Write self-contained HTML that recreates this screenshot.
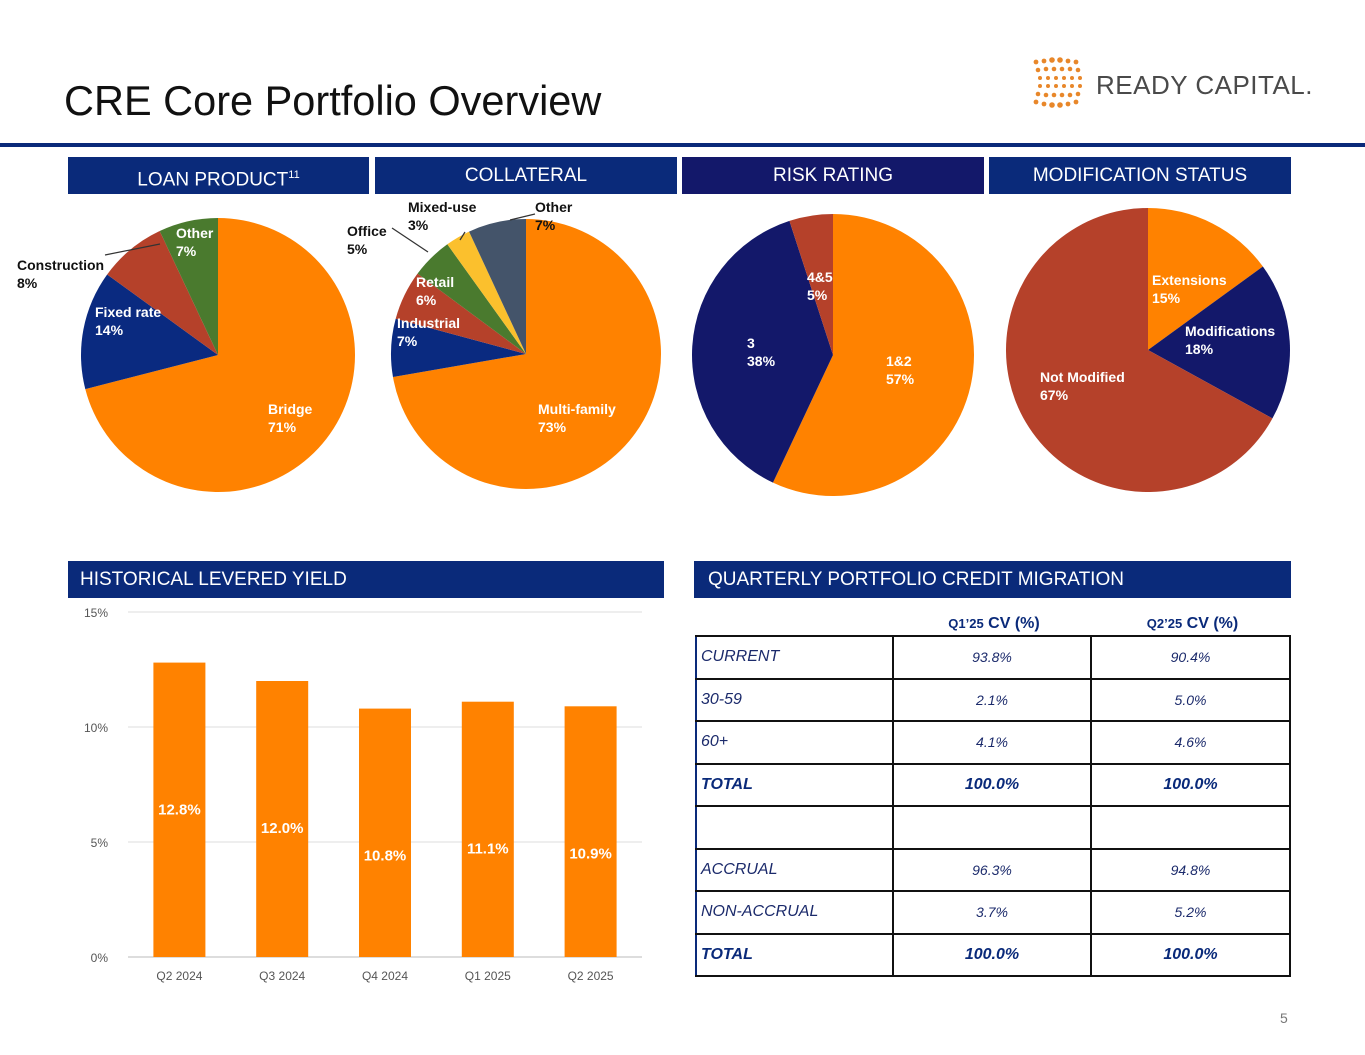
<!DOCTYPE html>
<html><head><meta charset="utf-8"><style>
body{margin:0;width:1365px;height:1055px;background:#fff;font-family:"Liberation Sans",Arial,sans-serif;position:relative;overflow:hidden}
.hdr{position:absolute;height:37px;background:#0A2A7A;color:#fff;font-size:19px;line-height:37px;text-align:center}
.abs{position:absolute}
table{border-collapse:collapse;position:absolute;left:695px;top:613px;width:594px;table-layout:fixed;font-size:16px;color:#1b2a6b}
td{border:2px solid #111;height:40.5px;padding:0 0 0 4px;font-style:italic}
td.c{text-align:center;padding:0;font-size:14px}
td.b{font-weight:bold;font-size:16px;color:#0A2A7A}
tr.h td{border:none;height:22px;font-style:normal;font-weight:bold;text-align:center;color:#0A2A7A;font-size:16px}
tr.h small{font-size:13px}
td.l{border-left:2px solid #0A2A7A}
</style></head><body>
<div class="abs" style="left:64px;top:77px;font-size:41.5px;color:#111">CRE Core Portfolio Overview</div>
<div class="abs" style="left:0;top:143px;width:1365px;height:4px;background:#0A2A7A"></div>
<div class="abs" style="left:1030px;top:56px;width:290px;height:56px">
<svg width="60" height="56"><g fill="#E8872A">
<circle cx="6" cy="6" r="2.4"/><circle cx="14" cy="5" r="2.4"/><circle cx="22" cy="4" r="2.8"/><circle cx="30" cy="4" r="2.8"/><circle cx="38" cy="5" r="2.4"/><circle cx="46" cy="6" r="2.4"/>
<circle cx="8" cy="14" r="2.3"/><circle cx="16" cy="13" r="2.3"/><circle cx="24" cy="13" r="2.3"/><circle cx="32" cy="13" r="2.3"/><circle cx="40" cy="13" r="2.3"/><circle cx="48" cy="14" r="2.3"/>
<circle cx="10" cy="22" r="2"/><circle cx="18" cy="22" r="2"/><circle cx="26" cy="22" r="2"/><circle cx="34" cy="22" r="2"/><circle cx="42" cy="22" r="2"/><circle cx="50" cy="22" r="2"/>
<circle cx="10" cy="30" r="2"/><circle cx="18" cy="30" r="2"/><circle cx="26" cy="30" r="2"/><circle cx="34" cy="30" r="2"/><circle cx="42" cy="30" r="2"/><circle cx="50" cy="30" r="2"/>
<circle cx="8" cy="38" r="2.3"/><circle cx="16" cy="39" r="2.3"/><circle cx="24" cy="39" r="2.3"/><circle cx="32" cy="39" r="2.3"/><circle cx="40" cy="39" r="2.3"/><circle cx="48" cy="38" r="2.3"/>
<circle cx="6" cy="46" r="2.4"/><circle cx="14" cy="48" r="2.4"/><circle cx="22" cy="49" r="2.8"/><circle cx="30" cy="49" r="2.8"/><circle cx="38" cy="48" r="2.4"/><circle cx="46" cy="46" r="2.4"/></g></svg>
<span class="abs" style="left:66px;top:14px;font-size:26px;color:#4a4a4a;letter-spacing:0.5px">READY CAPITAL.</span></div>

<div class="hdr" style="left:68px;top:157px;width:301px">LOAN PRODUCT<sup style="font-size:11px">11</sup></div>
<div class="hdr" style="left:375px;top:157px;width:302px">COLLATERAL</div>
<div class="hdr" style="left:682px;top:157px;width:302px;background:#13186A">RISK RATING</div>
<div class="hdr" style="left:989px;top:157px;width:302px">MODIFICATION STATUS</div>
<div class="hdr" style="left:68px;top:561px;width:596px;text-align:left;padding-left:12px;box-sizing:border-box">HISTORICAL LEVERED YIELD</div>
<div class="hdr" style="left:694px;top:561px;width:597px;text-align:left;padding-left:14px;box-sizing:border-box">QUARTERLY PORTFOLIO CREDIT MIGRATION</div>

<svg id="pies" class="abs" style="left:0;top:0" width="1365" height="560"></svg>
<svg id="bars" class="abs" style="left:0;top:0" width="680" height="1000"></svg>

<table>
<colgroup><col style="width:197px"><col style="width:198px"><col style="width:199px"></colgroup>
<tr class="h"><td></td><td><small>Q1’25</small> CV (%)</td><td><small>Q2’25</small> CV (%)</td></tr>
<tr><td class="l">CURRENT</td><td class="c">93.8%</td><td class="c">90.4%</td></tr>
<tr><td class="l">30-59</td><td class="c">2.1%</td><td class="c">5.0%</td></tr>
<tr><td class="l">60+</td><td class="c">4.1%</td><td class="c">4.6%</td></tr>
<tr><td class="l b">TOTAL</td><td class="c b">100.0%</td><td class="c b">100.0%</td></tr>
<tr><td class="l"></td><td class="c"></td><td class="c"></td></tr>
<tr><td class="l">ACCRUAL</td><td class="c">96.3%</td><td class="c">94.8%</td></tr>
<tr><td class="l">NON-ACCRUAL</td><td class="c">3.7%</td><td class="c">5.2%</td></tr>
<tr><td class="l b">TOTAL</td><td class="c b">100.0%</td><td class="c b">100.0%</td></tr>
</table>
<div class="abs" style="left:1280px;top:1010px;font-size:14px;color:#777">5</div>

<script>
const NS='http://www.w3.org/2000/svg';
const loanLabels=['Bridge','Fixed rate','Construction','Other'];
const loanValues=[71,14,8,7];
const collLabels=['Multi-family','Industrial','Retail','Office','Mixed-use','Other'];
const collValues=[73,7,6,5,3,7];
const riskLabels=['1&2','3','4&5'];
const riskValues=[57,38,5];
const modLabels=['Extensions','Modifications','Not Modified'];
const modValues=[15,18,67];
const yieldCats=['Q2 2024','Q3 2024','Q4 2024','Q1 2025','Q2 2025'];
const yieldValues=[12.8,12.0,10.8,11.1,10.9];
const yTicks=[0,5,10,15];

function mk(parent,tag,attrs){const e=document.createElementNS(NS,tag);for(const k in attrs)e.setAttribute(k,attrs[k]);parent.appendChild(e);return e;}
const pies=document.getElementById('pies');
const slug=s=>s.toLowerCase().replace(/[^a-z0-9]+/g,'-');
function pie(name,cx,cy,r,vals,labels,colors,lpos){
  const tot=vals.reduce((a,b)=>a+b,0);let a0=0;
  vals.forEach((v,i)=>{
    const a1=a0+v/tot*2*Math.PI;
    const x0=cx+r*Math.sin(a0),y0=cy-r*Math.cos(a0),x1=cx+r*Math.sin(a1),y1=cy-r*Math.cos(a1);
    const p=mk(pies,'path',{d:`M${cx},${cy}L${x0},${y0}A${r},${r} 0 ${a1-a0>Math.PI?1:0} 1 ${x1},${y1}Z`,fill:colors[i]});
    
    
    a0=a1;
  });
  vals.forEach((v,i)=>{
    const lp=lpos[i];
    const t=mk(pies,'text',{x:lp[0],y:lp[1],fill:lp[2],'font-size':14,'font-weight':'bold'});
    
    
    mk(t,'tspan',{x:lp[0]}).textContent=labels[i];
    mk(t,'tspan',{x:lp[0],dy:18}).textContent=v+'%';
  });
}
const O='#FF8200',N='#0A2A80',R='#B5412A',G='#4A7A2E',Y='#FBC02D',S='#44546A',D='#13186A';
pie('loan',218,355,137,loanValues,loanLabels,[O,N,R,G],[[268,414,'#fff'],[95,317,'#fff'],[17,270,'#111'],[176,238,'#fff']]);
pie('collateral',526,354,135,collValues,collLabels,[O,N,R,G,Y,S],[[538,414,'#fff'],[397,328,'#fff'],[416,287,'#fff'],[347,236,'#111'],[408,212,'#111'],[535,212,'#111']]);
pie('risk',833,355,141,riskValues,riskLabels,[O,D,R],[[886,366,'#fff'],[747,348,'#fff'],[807,282,'#fff']]);
pie('modification',1148,350,142,modValues,modLabels,[O,D,R],[[1152,285,'#fff'],[1185,336,'#fff'],[1040,382,'#fff']]);
mk(pies,'path',{d:'M105,255L160,244',stroke:'#333','stroke-width':1.2,fill:'none'});
mk(pies,'path',{d:'M392,228L428,252',stroke:'#333','stroke-width':1.2,fill:'none'});
mk(pies,'path',{d:'M465,232L460,240',stroke:'#333','stroke-width':1.2,fill:'none'});
mk(pies,'path',{d:'M535,214L510,220',stroke:'#333','stroke-width':1.2,fill:'none'});

const bars=document.getElementById('bars');
const X0=128,X1=642,Y0=957,Y15=612;
const yS=v=>Y0-(v/15)*(Y0-Y15);
const xS=i=>X0+(i+0.5)*(X1-X0)/yieldCats.length;
yTicks.forEach(t=>{
  const l=mk(bars,'line',{x1:X0,x2:X1,y1:yS(t),y2:yS(t),stroke:t===0?'#bbb':'#ddd','stroke-width':1});
  
  const tx=mk(bars,'text',{x:108,y:yS(t)+5,'text-anchor':'end','font-size':12,fill:'#555'});
  
  tx.textContent=t+'%';
});
yieldValues.forEach((v,i)=>{
  const b=mk(bars,'rect',{x:xS(i)-26,y:yS(v),width:52,height:Y0-yS(v),fill:'#FF8200'});
  
  
  const t=mk(bars,'text',{x:xS(i),y:yS(v)+152,'text-anchor':'middle','font-size':15,'font-weight':'bold',fill:'#fff'});
  
  t.textContent=v.toFixed(1)+'%';
  const c=mk(bars,'text',{x:xS(i),y:980,'text-anchor':'middle','font-size':12,fill:'#555'});
  
  c.textContent=yieldCats[i];
});
</script>
</body></html>
